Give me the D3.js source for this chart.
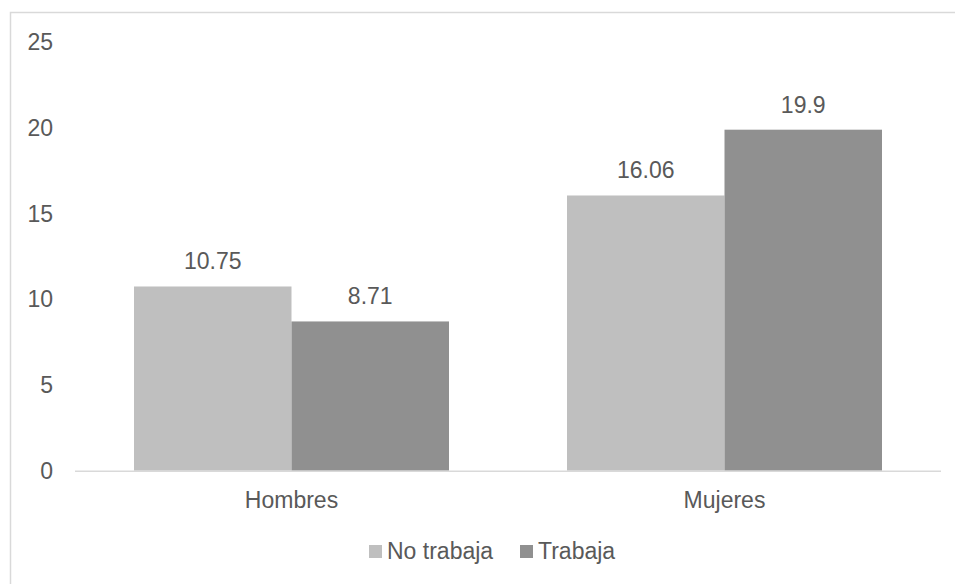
<!DOCTYPE html>
<html>
<head>
<meta charset="utf-8">
<script src="https://cdn.jsdelivr.net/npm/d3@7"></script>
<style>
  body { margin: 0; background: #fff; }
  text { font-family: "Liberation Sans", Arial, sans-serif; fill: #595959; }
</style>
</head>
<body>
<div id="chart"></div>
<script>
const width = 955;
const height = 584;

const categories = ['Hombres', 'Mujeres'];
const seriesNames = ['No trabaja', 'Trabaja'];
const noTrabaja = [10.75, 16.06];
const trabaja = [8.71, 19.9];
const yTicks = [0, 5, 10, 15, 20, 25];
const colors = ['#bfbfbf', '#909090'];

const margin = { top: 42.3, right: 14, bottom: 113.3, left: 75 };
const fontSize = 23;

const svg = d3.select('#chart')
    .append('svg')
    .attr('width', width)
    .attr('height', height);

// chart border (only top and left visible in frame)
svg.append('rect')
    .attr('x', 10.5)
    .attr('y', 12.5)
    .attr('width', width + 20)
    .attr('height', height + 20)
    .attr('fill', 'none')
    .attr('stroke', '#d9d9d9')
    .attr('stroke-width', 1.5);

const y = d3.scaleLinear()
    .domain([0, 25])
    .range([height - margin.bottom, margin.top]);

const x0 = d3.scaleBand()
    .domain(categories)
    .range([margin.left, width - margin.right])
    .paddingInner(0.2725)
    .paddingOuter(0.13625);

const x1 = d3.scaleBand()
    .domain(seriesNames)
    .range([0, x0.bandwidth()]);

// y tick labels
svg.append('g')
    .selectAll('text')
    .data(yTicks)
    .enter()
    .append('text')
    .attr('x', 53)
    .attr('y', d => y(d))
    .attr('dy', '0.35em')
    .attr('text-anchor', 'end')
    .attr('font-size', fontSize)
    .text(d => d);

// BARS
const rows = categories.map((c, i) => ({
    cat: c,
    values: [
        { name: seriesNames[0], value: noTrabaja[i] },
        { name: seriesNames[1], value: trabaja[i] }
    ]
}));

const groups = svg.append('g')
    .selectAll('g')
    .data(rows)
    .enter()
    .append('g')
    .attr('transform', d => `translate(${x0(d.cat)} 0)`);

groups.selectAll('rect')
    .data(d => d.values)
    .enter()
    .append('rect')
    .attr('x', d => x1(d.name))
    .attr('y', d => y(d.value))
    .attr('width', x1.bandwidth())
    .attr('height', d => y(0) - y(d.value))
    .attr('fill', (d, i) => colors[i]);

groups.selectAll('text')
    .data(d => d.values)
    .enter()
    .append('text')
    .attr('x', d => x1(d.name) + x1.bandwidth() / 2)
    .attr('y', d => y(d.value) - 17)
    .attr('text-anchor', 'middle')
    .attr('font-size', fontSize)
    .text(d => d.value);

// x axis line
svg.append('line')
    .attr('x1', margin.left)
    .attr('x2', width - margin.right)
    .attr('y1', y(0) + 0.5)
    .attr('y2', y(0) + 0.5)
    .attr('stroke', '#d9d9d9')
    .attr('stroke-width', 1.5);

// category labels
svg.append('g')
    .selectAll('text')
    .data(categories)
    .enter()
    .append('text')
    .attr('x', d => x0(d) + x0.bandwidth() / 2)
    .attr('y', 508)
    .attr('text-anchor', 'middle')
    .attr('font-size', fontSize)
    .text(d => d);

// LEGEND
const legendX = [369, 520];
const legend = svg.append('g')
    .selectAll('g')
    .data(seriesNames)
    .enter()
    .append('g')
    .attr('transform', (d, i) => `translate(${legendX[i]} 545)`);

legend.append('rect')
    .attr('width', 13)
    .attr('height', 13)
    .attr('fill', (d, i) => colors[i]);

legend.append('text')
    .attr('x', 18)
    .attr('y', 14.3)
    .attr('font-size', fontSize)
    .text(d => d);
</script>
</body>
</html>
